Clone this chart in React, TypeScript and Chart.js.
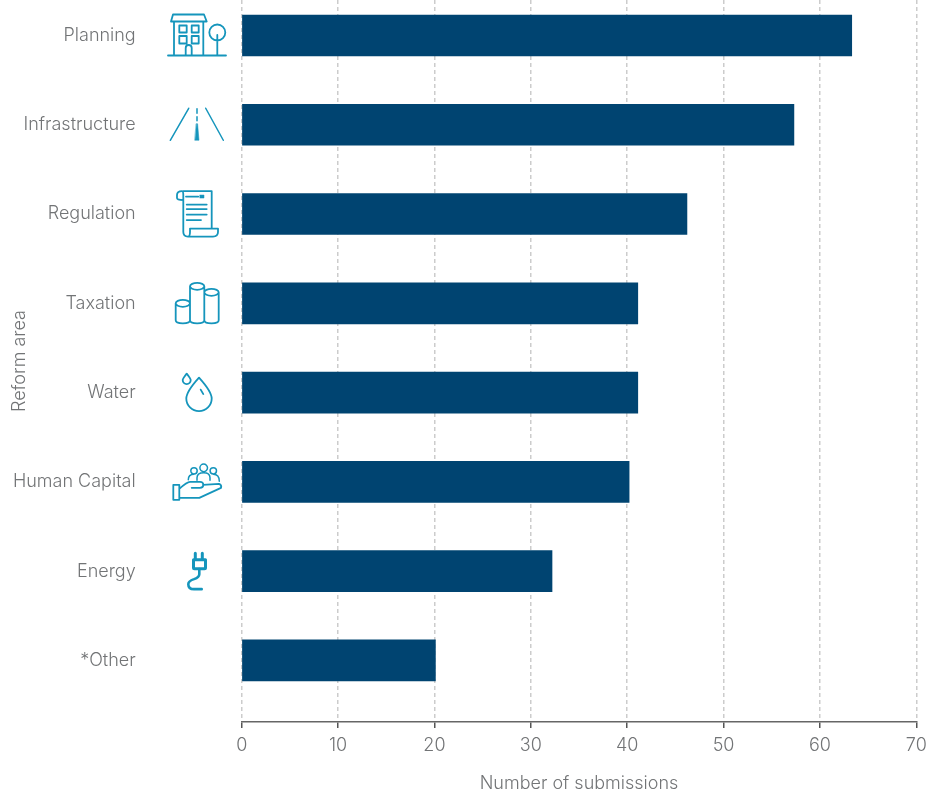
import React, { useEffect, useRef } from "react";
import { Chart, registerables } from "chart.js";

Chart.register(...registerables);

const categories = ["Planning", "Infrastructure", "Regulation", "Taxation", "Water", "Human Capital", "Energy", "*Other"];
const submissions = [63.3, 57.3, 46.2, 41.1, 41.1, 40.2, 32.2, 20.1];
const xTicks = [0, 10, 20, 30, 40, 50, 60, 70];

const ICON = "#1595bc";
const TEXT = "#727476";
const FONT = "Inter, 'Open Sans', sans-serif";

const cyl = (x0: number, x1: number, cy: number, bottom: number) => {
  const rx = (x1 - x0) / 2;
  return `M${x0} ${cy}a${rx} 3.5 0 1 0 ${2 * rx} 0a${rx} 3.5 0 1 0 ${-2 * rx} 0V${bottom - 3}Q${x0} ${bottom} ${x0 + rx} ${bottom}T${x1} ${bottom - 3}V${cy}`;
};

// Decorative pictograms, in local units around each category's centre.
const icons: { d: string; fill?: string; w?: number }[][] = [
  [
    {
      d: "M-29 20H29M-23 20V-14M6.3 20V-14M-26 -14L-24 -21H7L9.7 -14ZM-17.7 -10H-10.3V-3H-17.7ZM-5.3 -10H1.7V-3H-5.3ZM-17.7 0.5H-10.3V8H-17.7ZM-5.3 0.5H1.7V8H-5.3ZM-11.3 20V12.5Q-11.3 9.5 -8.3 9.5Q-5.3 9.5 -5.3 12.5V20M20.3 20V-0.5M28.3 -3a8 8 0 1 1 -16 0a8 8 0 1 1 16 0",
    },
  ],
  [
    { d: "M-8.3 -16.5L-26.7 15.5M8.7 -16.5L26.3 15.5M0 -16V-11.5M0 -8V-4", w: 1.5 },
    { d: "M-0.6 -1H0.6L2 15.5H-2Z", fill: ICON, w: 0.5 },
  ],
  [
    {
      d: "M-13.7 -23H14.7V14.5M-15 -23Q-20 -23 -20 -19V-16Q-20 -14 -13.7 -14M-15 -23Q-13.7 -23 -13.7 -19V18Q-13.7 22.5 -9 22.5H16Q21 22.5 21 18V14.5H-7V18Q-7 22.5 -9 22.5",
    },
    { d: "M-11 -17.5H1.3M-10.3 -9.5H9.7M-10.3 -5H9.7M-10.3 0.5H9.7M-10.3 6H4" },
    { d: "M3 -19H7V-16H3Z", fill: ICON, w: 0.5 },
  ],
  [{ d: cyl(-21.3, -7, 0, 20) + cyl(-7, 7.3, -17, 20) + cyl(7.3, 21.7, -11, 20) }],
  [
    {
      d: "M2 -15Q-10.7 -1 -10.7 6a12.7 12.5 0 0 0 25.4 0Q14.7 -1 2 -15ZM3.7 -3L6.3 1.5M-10.3 -19Q-14.3 -14 -14.3 -12.5a4 4 0 0 0 8 0Q-6.3 -14 -10.3 -19Z",
    },
  ],
  [
    {
      d: "M-23.7 3H-17.7V18H-23.7ZM-17.7 7Q-10 0 -7 0H3Q6.3 0 6.3 3Q6.3 6 3 6H-5.3M6 3L22 2Q25 3 24 6L2.3 16H-17.7",
    },
    {
      d: "M10.5 -14a3.8 3.8 0 1 1 -7.6 0a3.8 3.8 0 1 1 7.6 0M0.2 -11a3.2 3.2 0 1 1 -6.4 0a3.2 3.2 0 1 1 6.4 0M19.5 -11a3.2 3.2 0 1 1 -6.4 0a3.2 3.2 0 1 1 6.4 0M0 -1.5V-4Q0 -9 6.7 -9Q13 -9 13 -4V-1.5M-8.7 -2Q-8.7 -7.5 -3 -7.5M16.3 -7.5Q22.3 -7.5 22.3 -0.5",
      w: 1.5,
    },
  ],
  [
    { d: "M-3.5 -11.5H8.5V-3.5Q8.5 -2.5 7.5 -2.5H-2.5Q-3.5 -2.5 -3.5 -3.5ZM-1.7 -18V-12M5.3 -18V-12", w: 3 },
    { d: "M2.3 -2V3Q2.3 6 -3 8Q-8.7 10 -8.7 13Q-8.7 18 -3 18H4.7", w: 2.6 },
  ],
  [],
];

const iconPlugin = {
  id: "icons",
  afterDatasetsDraw(chart: any) {
    const { ctx, scales } = chart;
    ctx.save();
    ctx.strokeStyle = ICON;
    ctx.lineJoin = "round";
    ctx.lineCap = "round";
    icons.forEach((parts, i) => {
      ctx.save();
      ctx.translate(197, scales.y.getPixelForValue(i));
      parts.forEach((p) => {
        const path = new Path2D(p.d);
        ctx.lineWidth = p.w ?? 1.8;
        if (p.fill) {
          ctx.fillStyle = p.fill;
          ctx.fill(path);
        }
        ctx.stroke(path);
      });
      ctx.restore();
    });
    ctx.restore();
  },
};

export default function App() {
  const ref = useRef<HTMLCanvasElement>(null);
  useEffect(() => {
    const chart = new Chart(ref.current!, {
      type: "bar",
      plugins: [iconPlugin],
      data: {
        datasets: [
          {
            data: submissions.map((v, i) => ({ x: v, y: i })),
            backgroundColor: "#004471",
            barThickness: 41,
          },
        ],
      },
      options: {
        indexAxis: "y",
        animation: false,
        responsive: false,
        layout: { padding: { top: 0, right: 10.7, bottom: 0, left: 0 } },
        plugins: { legend: { display: false }, tooltip: { enabled: false } },
        scales: {
          x: {
            type: "linear",
            min: 0,
            max: 70,
            afterBuildTicks: (s: any) => {
              s.ticks = xTicks.map((value) => ({ value }));
            },
            afterFit: (s: any) => {
              s.height = 70;
              s.paddingLeft = 0;
              s.paddingRight = 0;
            },
            grid: {
              color: "#cccccc",
              lineWidth: 1.5,
              tickColor: "#555555",
              tickLength: 6,
              tickBorderDash: [],
            },
            border: { display: true, color: "#666666", width: 1.5, dash: [4, 3] },
            ticks: { color: TEXT, font: { family: FONT, size: 18, weight: 300 }, padding: 7, maxRotation: 0 },
            title: {
              display: true,
              text: "Number of submissions",
              color: TEXT,
              font: { family: FONT, size: 18, weight: 300 },
              padding: { top: 0, bottom: -2 },
            },
          },
          y: {
            type: "linear",
            reverse: true,
            offset: false,
            min: -0.3975,
            max: 7.69,
            afterBuildTicks: (s: any) => {
              s.ticks = categories.map((_, value) => ({ value }));
            },
            afterFit: (s: any) => {
              s.width = 241.7;
              s.paddingTop = 0;
              s.paddingBottom = 0;
            },
            grid: { display: false },
            border: { display: false },
            ticks: {
              color: TEXT,
              font: { family: FONT, size: 18, weight: 300 },
              padding: 98,
              callback: (v: any) => categories[v as number],
            },
            title: {
              display: true,
              text: "Reform area",
              color: TEXT,
              font: { family: FONT, size: 18, weight: 300 },
              padding: { top: 9, bottom: 0 },
            },
          },
        },
      },
    } as any);
    return () => chart.destroy();
  }, []);
  return (
    <div style={{ position: "absolute", left: 0, top: 0, width: 927, height: 792 }}>
      <canvas ref={ref} width={927} height={792} style={{ display: "block" }} />
    </div>
  );
}
